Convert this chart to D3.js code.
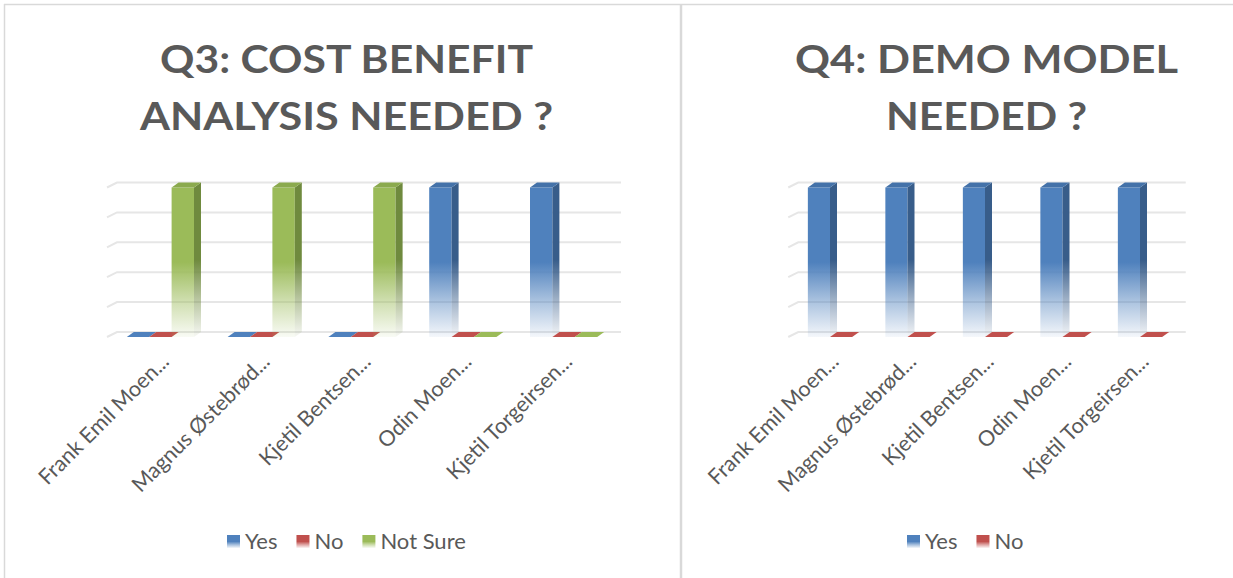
<!DOCTYPE html>
<html>
<head>
<meta charset="utf-8">
<script src="https://cdn.jsdelivr.net/npm/d3@7"></script>
<style>
  html, body { margin: 0; padding: 0; background: #fff; }
  svg { display: block; }
</style>
</head>
<body>
<svg id="chart" width="1233" height="578"></svg>
<script>
// ---- data ----
const respondents = ["Frank Emil Moen...", "Magnus Østebrød...", "Kjetil Bentsen...", "Odin Moen...", "Kjetil Torgeirsen..."];
const q3Series = ["Yes", "No", "Not Sure"];
const q3Yes = [0, 0, 0, 1, 1];
const q3No = [0, 0, 0, 0, 0];
const q3NotSure = [1, 1, 1, 0, 0];
const q4Series = ["Yes", "No"];
const q4Yes = [1, 1, 1, 1, 1];
const q4No = [0, 0, 0, 0, 0];
const yTicks = [0, 0.2, 0.4, 0.6, 0.8, 1];
const q3Title = ["Q3: COST BENEFIT", "ANALYSIS NEEDED ?"];
const q4Title = ["Q4: DEMO MODEL", "NEEDED ?"];

// ---- styling ----
const palette = {
  "Yes":      { face: "#4F81BD", side: "#385D8A", top: "#4472A9" },
  "No":       { face: "#C0504D", side: "#8C3A38", top: "#B04A47" },
  "Not Sure": { face: "#9BBB59", side: "#6F8A3E", top: "#8BAA4E" }
};
const textColor = "#595959";
const gridColor = "#E6E6E6";
const borderColor = "#D9D9D9";
const fontFamily = "Lato, 'Open Sans', sans-serif";
const depthX = 7, depthY = -5;   // oblique offset of the 3D bars

const svg = d3.select("#chart");
const defs = svg.append("defs");

// fading gradients: solid on the upper half, washing out towards the floor
function fadeGradient(id, color) {
  const g = defs.append("linearGradient").attr("id", id)
    .attr("x1", 0).attr("y1", 0).attr("x2", 0).attr("y2", 1);
  [[0, 1], [0.5, 1], [0.75, 0.5], [1, 0.06]].forEach(([o, a]) =>
    g.append("stop").attr("offset", o).attr("stop-color", color).attr("stop-opacity", a));
}
const key = s => s.replace(/\s+/g, "");
Object.entries(palette).forEach(([s, c]) => {
  fadeGradient("face-" + key(s), c.face);
  fadeGradient("side-" + key(s), c.side);
});

// ---- frame ----
svg.append("line").attr("x1", 4).attr("x2", 1233).attr("y1", 4.5).attr("y2", 4.5)
  .attr("stroke", borderColor).attr("stroke-width", 1.5);
svg.append("line").attr("x1", 4.5).attr("x2", 4.5).attr("y1", 4).attr("y2", 578)
  .attr("stroke", borderColor).attr("stroke-width", 1.5);
svg.append("line").attr("x1", 681).attr("x2", 681).attr("y1", 4).attr("y2", 578)
  .attr("stroke", borderColor).attr("stroke-width", 2.5);

function drawPanel(cfg) {
  const g = svg.append("g");

  // title
  cfg.title.forEach((line, i) => {
    g.append("text")
      .attr("x", cfg.titleX).attr("y", cfg.titleY[i])
      .attr("text-anchor", "middle")
      .attr("font-family", fontFamily)
      .attr("font-weight", 700).attr("font-size", 38)
      .attr("fill", textColor)
      .attr("textLength", cfg.titleWidths[i]).attr("lengthAdjust", "spacingAndGlyphs")
      .text(line);
  });

  const x = d3.scaleBand().domain(respondents).range(cfg.xRange);
  const slot = x.step() / (cfg.series.length + 1.5);
  const xs = d3.scaleBand().domain(cfg.series).range([0.75 * slot, x.step() - 0.75 * slot]);
  const y = d3.scaleLinear().domain([0, 1]).range([337, 187.5]);

  // back-wall gridlines with their short run along the side wall
  const x0 = cfg.xRange[0], x1 = cfg.xRange[1];
  g.append("g").selectAll("path").data(yTicks).join("path")
    .attr("d", t => d3.line()([[x0 - 3, y(t)], [x0 + depthX, y(t) + depthY], [x1 + depthX, y(t) + depthY]]))
    .attr("fill", "none").attr("stroke", gridColor).attr("stroke-width", 2);

  // bars
  const rows = [];
  respondents.forEach((r, i) => cfg.series.forEach((s, j) =>
    rows.push({ r, s, v: cfg.values[j][i] })));

  const bars = g.append("g").selectAll("g").data(rows).join("g");
  bars.each(function (d) {
    const b = d3.select(this);
    const bx = x(d.r) + xs(d.s), w = xs.bandwidth();
    const yt = y(d.v), yb = y(0);
    const c = palette[d.s];
    if (d.v > 0) {
      b.append("rect").attr("x", bx).attr("y", yt).attr("width", w).attr("height", yb - yt)
        .attr("fill", `url(#face-${key(d.s)})`);
      b.append("path")
        .attr("d", d3.line()([[bx + w, yt], [bx + w + depthX, yt + depthY], [bx + w + depthX, yb + depthY], [bx + w, yb]]) + "Z")
        .attr("fill", `url(#side-${key(d.s)})`);
    }
    b.append("path")
      .attr("d", d3.line()([[bx, yt], [bx + depthX, yt + depthY], [bx + w + depthX, yt + depthY], [bx + w, yt]]) + "Z")
      .attr("fill", d.v > 0 ? c.top : c.face);
  });

  // category labels
  g.append("g").selectAll("text").data(respondents).join("text")
    .attr("transform", r => `translate(${x(r) + x.bandwidth() / 2 + 10},363) rotate(-45)`)
    .attr("text-anchor", "end")
    .attr("font-family", fontFamily)
    .attr("font-size", 21.5).attr("fill", textColor)
    .text(r => r);

  // legend
  const lg = g.append("g");
  let lx = cfg.legendX;
  cfg.series.forEach(s => {
    lg.append("rect").attr("x", lx).attr("y", 535).attr("width", 13).attr("height", 13)
      .attr("fill", `url(#face-${key(s)})`);
    const t = lg.append("text").attr("x", lx + 18).attr("y", 549)
      .attr("font-family", fontFamily)
      .attr("font-size", 22).attr("fill", textColor).text(s);
    lx += 18 + t.node().getComputedTextLength() + 19;
  });
}

drawPanel({
  title: q3Title, titleX: 346.5, titleY: [73, 130], titleWidths: [373, 413],
  xRange: [110, 614], series: q3Series, values: [q3Yes, q3No, q3NotSure], legendX: 227
});
drawPanel({
  title: q4Title, titleX: 986.5, titleY: [73, 130], titleWidths: [383, 201],
  xRange: [791.25, 1178.75], series: q4Series, values: [q4Yes, q4No], legendX: 907
});
</script>
</body>
</html>
